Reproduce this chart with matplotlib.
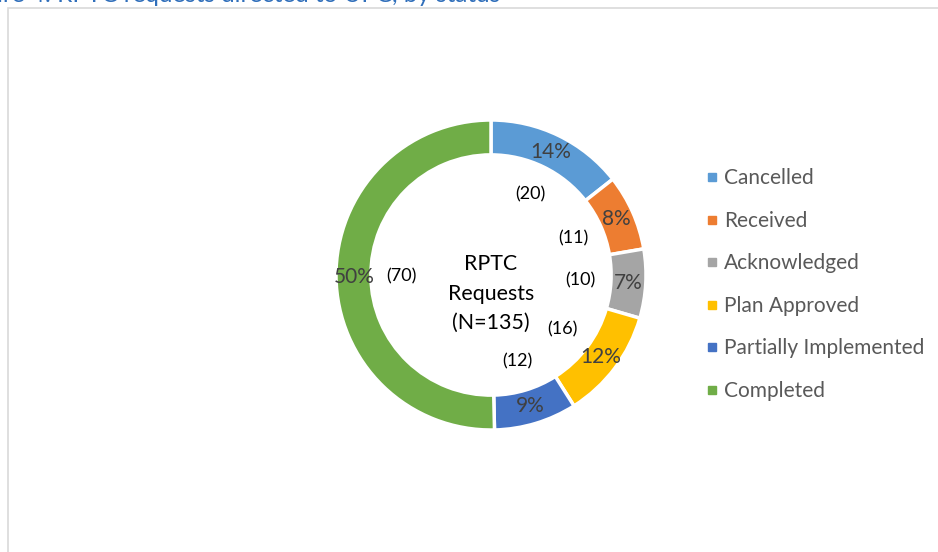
import matplotlib.pyplot as plt
from matplotlib.patches import Rectangle
from matplotlib.lines import Line2D
import numpy as np

plt.rcParams['font.family'] = ['Lato', 'DejaVu Sans']

statuses = ["Cancelled", "Received", "Acknowledged", "Plan Approved",
            "Partially Implemented", "Completed"]
counts = [20, 11, 10, 16, 12, 70]
colors = ["#5B9BD5", "#ED7D31", "#A5A5A5", "#FFC000", "#4472C4", "#70AD47"]
title = "Figure 4: RPTC requests directed to UPC, by status"
center_text = "RPTC\nRequests\n(N=135)"

W, H = 938, 552
fig = plt.figure(figsize=(W / 100, H / 100), dpi=100)

# light grey frame, cut off on the right and bottom like the screenshot
fig.patches.append(Rectangle((8 / W, -0.1), 1.2, 1 - 8 / H + 0.1,
                             transform=fig.transFigure, fill=False,
                             edgecolor="#D9D9D9", linewidth=1.2))

# title, only lower part visible
fig.text(500 / W, 1 - 2 / H, title, ha="right", va="baseline",
         color="#2F6EBA", fontsize=17.5)

cx, cy, R = 491, 275, 155
ax = fig.add_axes([(cx - R) / W, (H - cy - R) / H, 2 * R / W, 2 * R / H])
wedges, _, autotexts = ax.pie(counts, colors=colors, startangle=90,
                              counterclock=False, autopct="%1.0f%%",
                              pctdistance=0.885,
                              wedgeprops=dict(width=0.225, edgecolor="white",
                                              linewidth=2.5),
                              textprops=dict(color="#404040", fontsize=15))
ax.set_xlim(-1, 1)
ax.set_ylim(-1, 1)
ax.set_aspect("equal")

# counts inside the hole
for w, n in zip(wedges, counts):
    ang = np.deg2rad((w.theta1 + w.theta2) / 2)
    r = 0.58
    ax.text(r * np.cos(ang), r * np.sin(ang), f"({n})", ha="center",
            va="center", fontsize=13, color="black")

ax.text(0, -0.12, center_text, ha="center", va="center", fontsize=15.4,
        color="black", linespacing=1.6)

handles = [Line2D([], [], marker="s", linestyle="", markersize=6,
                  markerfacecolor=c, markeredgecolor=c) for c in colors]
fig.legend(handles, statuses, loc="upper left",
           bbox_to_anchor=(697 / W, 1 - 160 / H), frameon=False,
           fontsize=15, labelcolor="#595959", handlelength=0.6,
           handletextpad=0.3, labelspacing=1.08, borderaxespad=0)

fig.savefig("out.png", dpi=100)
